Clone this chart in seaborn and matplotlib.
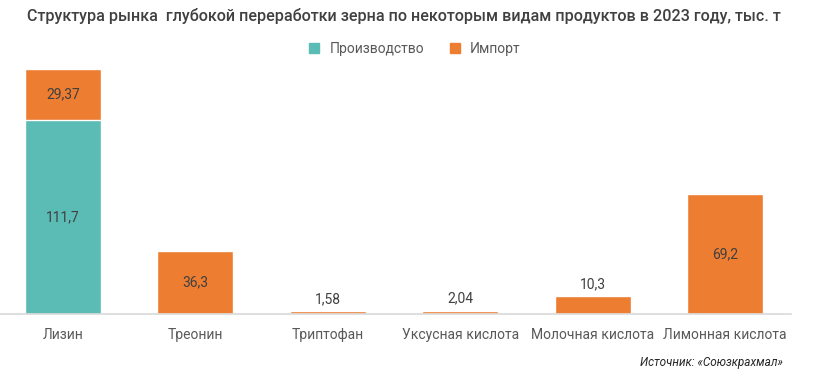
import matplotlib.pyplot as plt
import matplotlib.lines as mlines
import pandas as pd
import seaborn as sns

# Data
products = ['Лизин', 'Треонин', 'Триптофан', 'Уксусная кислота', 'Молочная кислота', 'Лимонная кислота']
production = [111.7, 0, 0, 0, 0, 0]
imports = [29.37, 36.3, 1.58, 2.04, 10.3, 69.2]
labels_prod = ['111,7', '', '', '', '', '']
labels_imp = ['29,37', '36,3', '1,58', '2,04', '10,3', '69,2']

sns.set_style('white')
plt.rcParams['font.family'] = ['Roboto', 'DejaVu Sans']

df = pd.DataFrame({'product': products, 'production': production, 'imports': imports})
df['total'] = df['production'] + df['imports']

teal = '#5BBBB5'
orange = '#ED7D31'

fig = plt.figure(figsize=(8.21, 3.74), dpi=100)
ax = fig.add_axes([-0.004, 0.16, 0.9676, 0.675])

# stacked bars: draw total (import on top) then production over it
sns.barplot(data=df, x='product', y='total', color=orange, width=0.574,
            saturation=1, ax=ax)
sns.barplot(data=df, x='product', y='production', color=teal, width=0.574,
            saturation=1, ax=ax)

ax.set_ylim(0, 145)
ax.set_xlim(-0.5, 5.5)
ax.set_xlabel('')
ax.set_ylabel('')
ax.set_yticks([])
for s in ['top', 'right', 'left']:
    ax.spines[s].set_visible(False)
ax.spines['bottom'].set_color('#D9D9D9')
ax.spines['bottom'].set_linewidth(1.2)
ax.tick_params(axis='x', length=0, pad=10, labelsize=10, labelcolor='#595959')

# value labels
for i, row in df.iterrows():
    if row['production'] > 0:
        ax.text(i, row['production'] / 2, labels_prod[i], ha='center', va='center',
                fontsize=10, color='#404040')
    if row['imports'] > 20:
        ax.text(i, row['production'] + row['imports'] / 2, labels_imp[i],
                ha='center', va='center', fontsize=10, color='#404040')
    else:
        ax.text(i, row['total'] + 7, labels_imp[i], ha='center', va='center',
                fontsize=10, color='#404040')

fig.text(0.033, 0.957, 'Структура рынка  глубокой переработки зерна по некоторым видам продуктов в 2023 году, тыс. т',
         fontsize=11.6, color='#404040', fontweight='medium', va='center', ha='left')

handles = [mlines.Line2D([], [], color=teal, marker='s', linestyle='', markersize=7),
           mlines.Line2D([], [], color=orange, marker='s', linestyle='', markersize=7)]
fig.legend(handles, ['Производство', 'Импорт'], loc='center', bbox_to_anchor=(0.5, 0.869),
           ncol=2, frameon=False, fontsize=10, handletextpad=0.1, columnspacing=1.2,
           labelcolor='#595959')

fig.text(0.954, 0.032, 'Источник: «Союзкрахмал»', fontsize=8.5, style='italic',
         color='#262626', ha='right', va='center')

fig.savefig('out.png', dpi=100)
